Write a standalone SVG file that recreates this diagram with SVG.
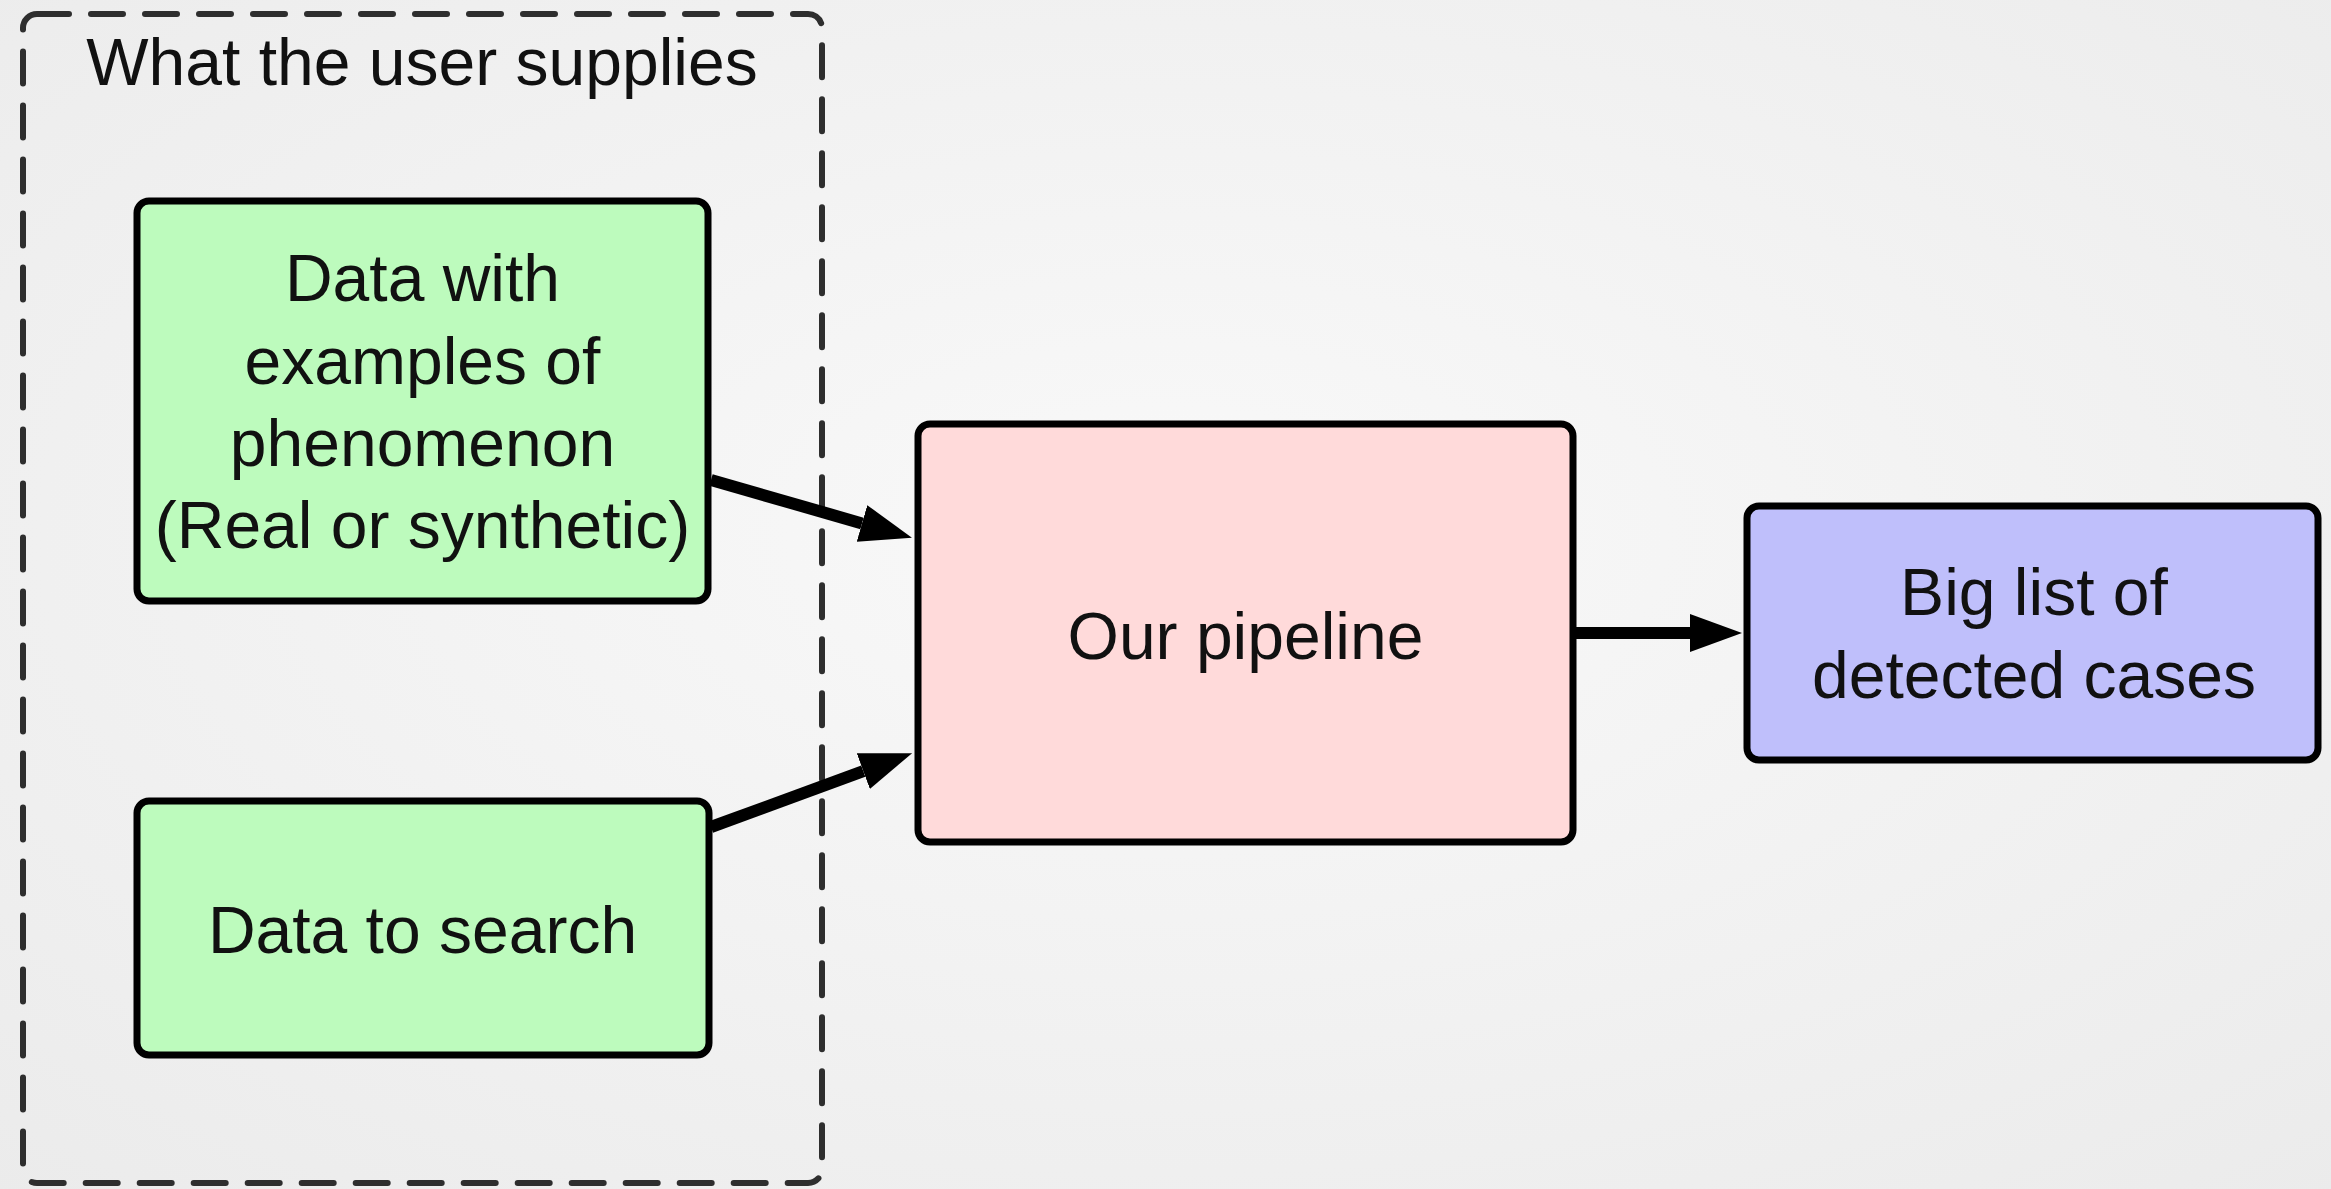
<svg xmlns="http://www.w3.org/2000/svg" width="2331" height="1189" viewBox="0 0 2331 1189">
  <defs>
    <radialGradient id="bg" cx="50%" cy="45%" r="75%">
      <stop offset="0" stop-color="#f9f9f9"/>
      <stop offset="1" stop-color="#ebebeb"/>
    </radialGradient>
    <marker id="head" markerUnits="userSpaceOnUse" markerWidth="54" markerHeight="40" refX="0" refY="19" orient="auto">
      <path d="M0,0 L52,19 L0,38 Z" fill="#000"/>
    </marker>
    <style>
      .box { stroke: #000; stroke-width: 7; }
      .green { fill: #bdfbbd; }
      .pink { fill: #ffdada; }
      .blue { fill: #bfbffb; }
      .lbl { font-family: "Liberation Sans", Arial, Helvetica, sans-serif; font-size: 66px; fill: #111; text-anchor: middle; }
      .edge { stroke: #000; stroke-width: 12; fill: none; marker-end: url(#head); }
      .group { fill: none; stroke: #2e2e2e; stroke-width: 6; stroke-dasharray: 32 22; stroke-linecap: round; }
    </style>
  </defs>
  <rect x="0" y="0" width="2331" height="1189" fill="url(#bg)"/>

  <g id="user-supplies">
    <rect class="group" x="23" y="14" width="799" height="1169" rx="14"/>
    <text class="lbl" x="422" y="85">What the user supplies</text>
  </g>

  <g id="connectors">
    <line class="edge" x1="711" y1="480" x2="862" y2="523.4"/>
    <line class="edge" x1="711" y1="827" x2="863.3" y2="771.1"/>
    <line class="edge" x1="1576" y1="633" x2="1690" y2="633"/>
  </g>

  <g id="examples">
    <rect class="box green" x="137" y="201" width="571" height="400" rx="12"/>
    <text class="lbl" x="422.5" y="301">Data with</text>
    <text class="lbl" x="422.5" y="384">examples of</text>
    <text class="lbl" x="422.5" y="466">phenomenon</text>
    <text class="lbl" x="422.5" y="548">(Real or synthetic)</text>
  </g>

  <g id="search-data">
    <rect class="box green" x="137" y="801" width="572" height="254" rx="12"/>
    <text class="lbl" x="422.5" y="953">Data to search</text>
  </g>

  <g id="pipeline">
    <rect class="box pink" x="918" y="424" width="655" height="418" rx="12"/>
    <text class="lbl" x="1245.5" y="659">Our pipeline</text>
  </g>

  <g id="results">
    <rect class="box blue" x="1747" y="506" width="571" height="254" rx="12"/>
    <text class="lbl" x="2034" y="615">Big list of</text>
    <text class="lbl" x="2034" y="698">detected cases</text>
  </g>
</svg>
